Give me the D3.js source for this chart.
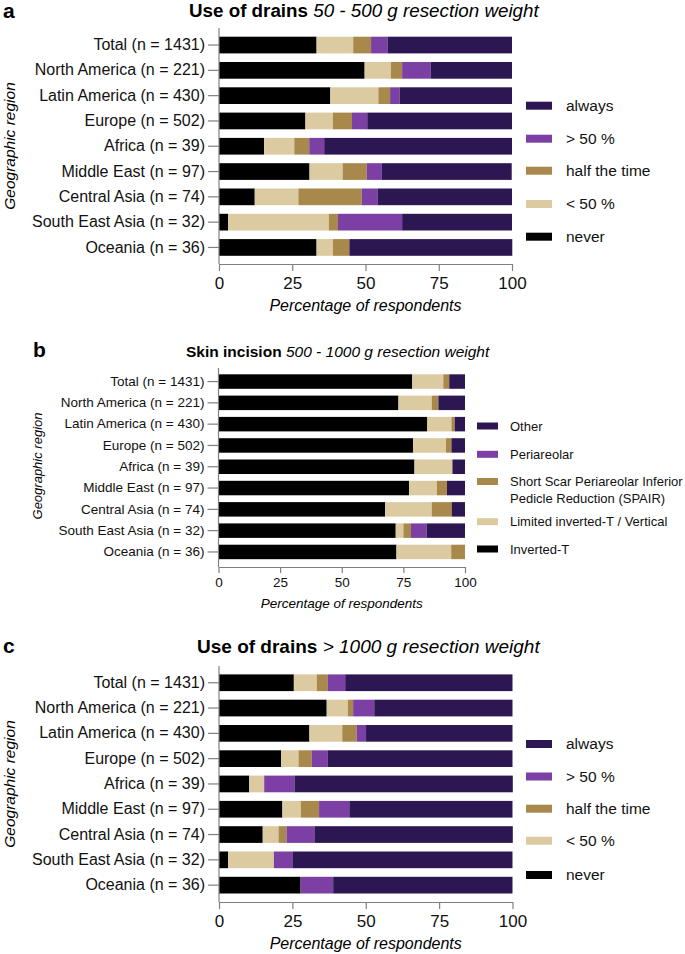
<!DOCTYPE html>
<html>
<head>
<meta charset="utf-8">
<script src="https://cdn.jsdelivr.net/npm/d3@7"></script>
<style>
  body { margin: 0; background: #fff; }
  svg { display: block; font-family: Arial, "Liberation Sans", sans-serif; }
</style>
</head>
<body>
<div id="chart"></div>
<script>
// categories shared by all three panels
var regions = ["Total (n = 1431)", "North America (n = 221)", "Latin America (n = 430)",
  "Europe (n = 502)", "Africa (n = 39)", "Middle East (n = 97)", "Central Asia (n = 74)",
  "South East Asia (n = 32)", "Oceania (n = 36)"];
var xTicks = [0, 25, 50, 75, 100];

// drains categories (stack order, left to right)
var drainKeys = ["never", "< 50 %", "half the time", "> 50 %", "always"];
var drainColors = ["#000000", "#dccaa0", "#a9884c", "#7c3fa4", "#2d1752"];

// a - use of drains, 50 - 500 g
var a_never  = [33.3, 49.7, 38.0, 29.5, 15.4, 30.9, 12.2, 3.1, 33.3];
var a_lt50   = [12.5, 9.0, 16.4, 9.4, 10.3, 11.3, 14.9, 34.4, 5.6];
var a_half   = [6.1, 3.8, 4.0, 6.5, 5.1, 8.2, 21.6, 3.1, 5.6];
var a_gt50   = [5.6, 9.7, 3.3, 5.2, 5.1, 5.2, 5.4, 21.9, 0];
var a_always = [42.5, 27.8, 38.3, 49.4, 64.1, 44.3, 45.9, 37.5, 55.6];

// b - skin incision, 500 - 1000 g
var incisionKeys = ["Inverted-T", "Limited inverted-T / Vertical",
  "Short Scar Periareolar Inferior Pedicle Reduction (SPAIR)", "Periareolar", "Other"];
var incisionColors = ["#000000", "#dccaa0", "#a9884c", "#7c3fa4", "#2d1752"];
var b_invT    = [78.6, 73.0, 84.7, 78.9, 79.5, 77.3, 67.6, 71.9, 72.2];
var b_limited = [12.6, 13.5, 9.8, 13.4, 15.4, 11.3, 18.9, 3.1, 22.2];
var b_spair   = [2.4, 2.7, 1.3, 2.2, 0, 4.1, 8.1, 3.1, 5.6];
var b_peri    = [0, 0, 0, 0, 0, 0, 0, 6.3, 0];
var b_other   = [6.4, 10.8, 4.2, 5.5, 5.1, 7.3, 5.4, 15.6, 0];

// c - use of drains, > 1000 g
var c_never  = [25.5, 36.7, 30.8, 21.2, 10.3, 21.6, 14.9, 3.1, 27.8];
var c_lt50   = [7.8, 7.2, 11.2, 5.9, 5.1, 6.3, 5.4, 15.6, 0];
var c_half   = [3.8, 1.8, 4.9, 4.5, 0, 6.2, 2.7, 0, 0];
var c_gt50   = [5.9, 7.2, 3.2, 5.5, 10.3, 10.3, 9.5, 6.3, 11.1];
var c_always = [57.0, 47.1, 49.9, 62.9, 74.4, 55.6, 67.6, 75.0, 61.1];

function table(keys, series) {
  return regions.map(function (r, i) {
    var row = { region: r };
    keys.forEach(function (k, j) { row[k] = series[j][i]; });
    return row;
  });
}

var svg = d3.select("#chart").append("svg")
  .attr("width", 685)
  .attr("height", 954);

function drawPanel(p) {
  var g = svg.append("g");
  var x = d3.scaleLinear().domain([0, 100]).range(p.xRange);
  var y = d3.scaleBand().domain(regions).range(p.yRange)
    .paddingInner(p.pad).paddingOuter(p.pad / 2);
  var color = d3.scaleOrdinal().domain(p.keys).range(p.colors);

  var stacked = d3.stack().keys(p.keys)(table(p.keys, p.series));

  g.selectAll("g.layer")
    .data(stacked)
    .enter()
    .append("g")
    .attr("class", "layer")
    .attr("fill", function (d) { return color(d.key); })
    .selectAll("rect")
    .data(function (d) { return d; })
    .enter()
    .append("rect")
    .attr("x", function (d) { return x(d[0]); })
    .attr("y", function (d) { return y(d.data.region); })
    .attr("width", function (d) { return Math.max(0, x(d[1]) - x(d[0])); })
    .attr("height", y.bandwidth());

  // x axis
  var xa = g.append("g")
    .attr("transform", "translate(0," + p.axisY + ")")
    .call(d3.axisBottom(x).tickValues(xTicks).tickSize(p.xTick).tickSizeOuter(0).tickPadding(p.xPad));
  xa.select(".domain").attr("stroke", "#808080").attr("stroke-width", 1.2);
  xa.selectAll(".tick line").attr("stroke", "#808080").attr("stroke-width", 1.2);
  xa.selectAll("text").attr("fill", "#111").style("font-size", p.tickFont + "px")
    .style("font-family", "Arial, 'Liberation Sans', sans-serif");

  // y axis
  var ya = g.append("g")
    .attr("transform", "translate(" + p.xRange[0] + ",0)")
    .call(d3.axisLeft(y).tickSize(11).tickPadding(3));
  ya.select(".domain").remove();
  ya.selectAll(".tick line").attr("stroke", "#808080").attr("stroke-width", 1.2);
  ya.selectAll("text").attr("fill", "#111").style("font-size", p.labelFont + "px")
    .style("font-family", "Arial, 'Liberation Sans', sans-serif");
  g.append("line")
    .attr("x1", p.xRange[0]).attr("x2", p.xRange[0])
    .attr("y1", p.axisTop).attr("y2", p.axisY)
    .attr("stroke", "#808080").attr("stroke-width", 1.2);

  // axis titles
  g.append("text")
    .attr("x", (p.xRange[0] + p.xRange[1]) / 2)
    .attr("y", p.xTitleY)
    .attr("text-anchor", "middle")
    .style("font-size", p.titleFontAxis + "px")
    .style("font-style", "italic")
    .text("Percentage of respondents");
  g.append("text")
    .attr("transform", "translate(" + p.yTitleX + "," + p.yTitleY + ") rotate(-90)")
    .attr("text-anchor", "middle")
    .attr("dy", "0.35em")
    .style("font-size", p.yTitleFont + "px")
    .style("font-style", "italic")
    .text("Geographic region");

  // panel letter and title
  g.append("text")
    .attr("x", p.letterX).attr("y", p.letterY)
    .style("font-size", "21px").style("font-weight", "bold")
    .text(p.letter);
  var t = g.append("text")
    .attr("x", p.titleX).attr("y", p.titleY)
    .style("font-size", p.titleFont + "px");
  t.append("tspan").style("font-weight", "bold").text(p.titleBold);
  t.append("tspan").style("font-style", "italic").text(" " + p.titleItalic);

  // legend, top entry is the last stack key
  var items = p.keys.slice().reverse();
  var lg = g.selectAll("g.legend")
    .data(items)
    .enter()
    .append("g")
    .attr("class", "legend")
    .attr("transform", function (d, i) { return "translate(0," + p.legendY[i] + ")"; });
  lg.append("rect")
    .attr("x", p.legendX)
    .attr("y", -p.swatchH / 2)
    .attr("width", p.swatchW)
    .attr("height", p.swatchH)
    .attr("fill", function (d) { return color(d); });
  lg.append("text")
    .attr("x", p.legendTextX)
    .style("font-size", p.legendFont + "px")
    .attr("fill", "#111")
    .each(function (d) {
      var lines = p.legendLines[d] || [d];
      var el = d3.select(this);
      lines.forEach(function (line, k) {
        el.append("tspan")
          .attr("x", p.legendTextX)
          .attr("y", k * p.legendLineH)
          .attr("dy", "0.35em")
          .text(line);
      });
    });
}

drawPanel({
  keys: drainKeys, colors: drainColors,
  series: [a_never, a_lt50, a_half, a_gt50, a_always],
  xRange: [219, 512], yRange: [32.4, 260.1], pad: 0.34,
  axisTop: 28, axisY: 264, xTick: 7, xPad: 6,
  tickFont: 17, labelFont: 16, titleFontAxis: 16,
  xTitleY: 311, yTitleX: 9.5, yTitleY: 146, yTitleFont: 15.5,
  letter: "a", letterX: 3, letterY: 18, titleX: 189, titleY: 17, titleFont: 18.8,
  titleBold: "Use of drains", titleItalic: "50 - 500 g resection weight",
  legendX: 526, legendTextX: 566, swatchW: 26, swatchH: 8,
  legendY: [105.7, 138.7, 170.7, 204, 236.7], legendFont: 15.5, legendLineH: 17, legendLines: {}
});

drawPanel({
  keys: incisionKeys, colors: incisionColors,
  series: [b_invT, b_limited, b_spair, b_peri, b_other],
  xRange: [218.5, 465], yRange: [370.9, 562.6], pad: 0.32,
  axisTop: 368, axisY: 567, xTick: 6, xPad: 4,
  tickFont: 13.5, labelFont: 13.5, titleFontAxis: 13.5,
  xTitleY: 608, yTitleX: 37.5, yTitleY: 466, yTitleFont: 13,
  letter: "b", letterX: 33, letterY: 357, titleX: 186, titleY: 357, titleFont: 15.5,
  titleBold: "Skin incision", titleItalic: "500 - 1000 g resection weight",
  legendX: 477, legendTextX: 510, swatchW: 21, swatchH: 7,
  legendY: [426, 454.3, 481.5, 521.7, 549], legendFont: 13, legendLineH: 17,
  legendLines: {
    "Short Scar Periareolar Inferior Pedicle Reduction (SPAIR)":
      ["Short Scar Periareolar Inferior", "Pedicle Reduction (SPAIR)"]
  }
});

drawPanel({
  keys: drainKeys, colors: drainColors,
  series: [c_never, c_lt50, c_half, c_gt50, c_always],
  xRange: [219, 512.5], yRange: [670.1, 897.8], pad: 0.34,
  axisTop: 666, axisY: 902, xTick: 7, xPad: 6,
  tickFont: 17, labelFont: 16, titleFontAxis: 16,
  xTitleY: 948.5, yTitleX: 9.5, yTitleY: 784, yTitleFont: 15.5,
  letter: "c", letterX: 3, letterY: 653, titleX: 197, titleY: 653, titleFont: 19,
  titleBold: "Use of drains", titleItalic: "> 1000 g resection weight",
  legendX: 526, legendTextX: 566, swatchW: 26, swatchH: 8,
  legendY: [744, 776.5, 808.7, 840.7, 875], legendFont: 15.5, legendLineH: 17, legendLines: {}
});
</script>
</body>
</html>
